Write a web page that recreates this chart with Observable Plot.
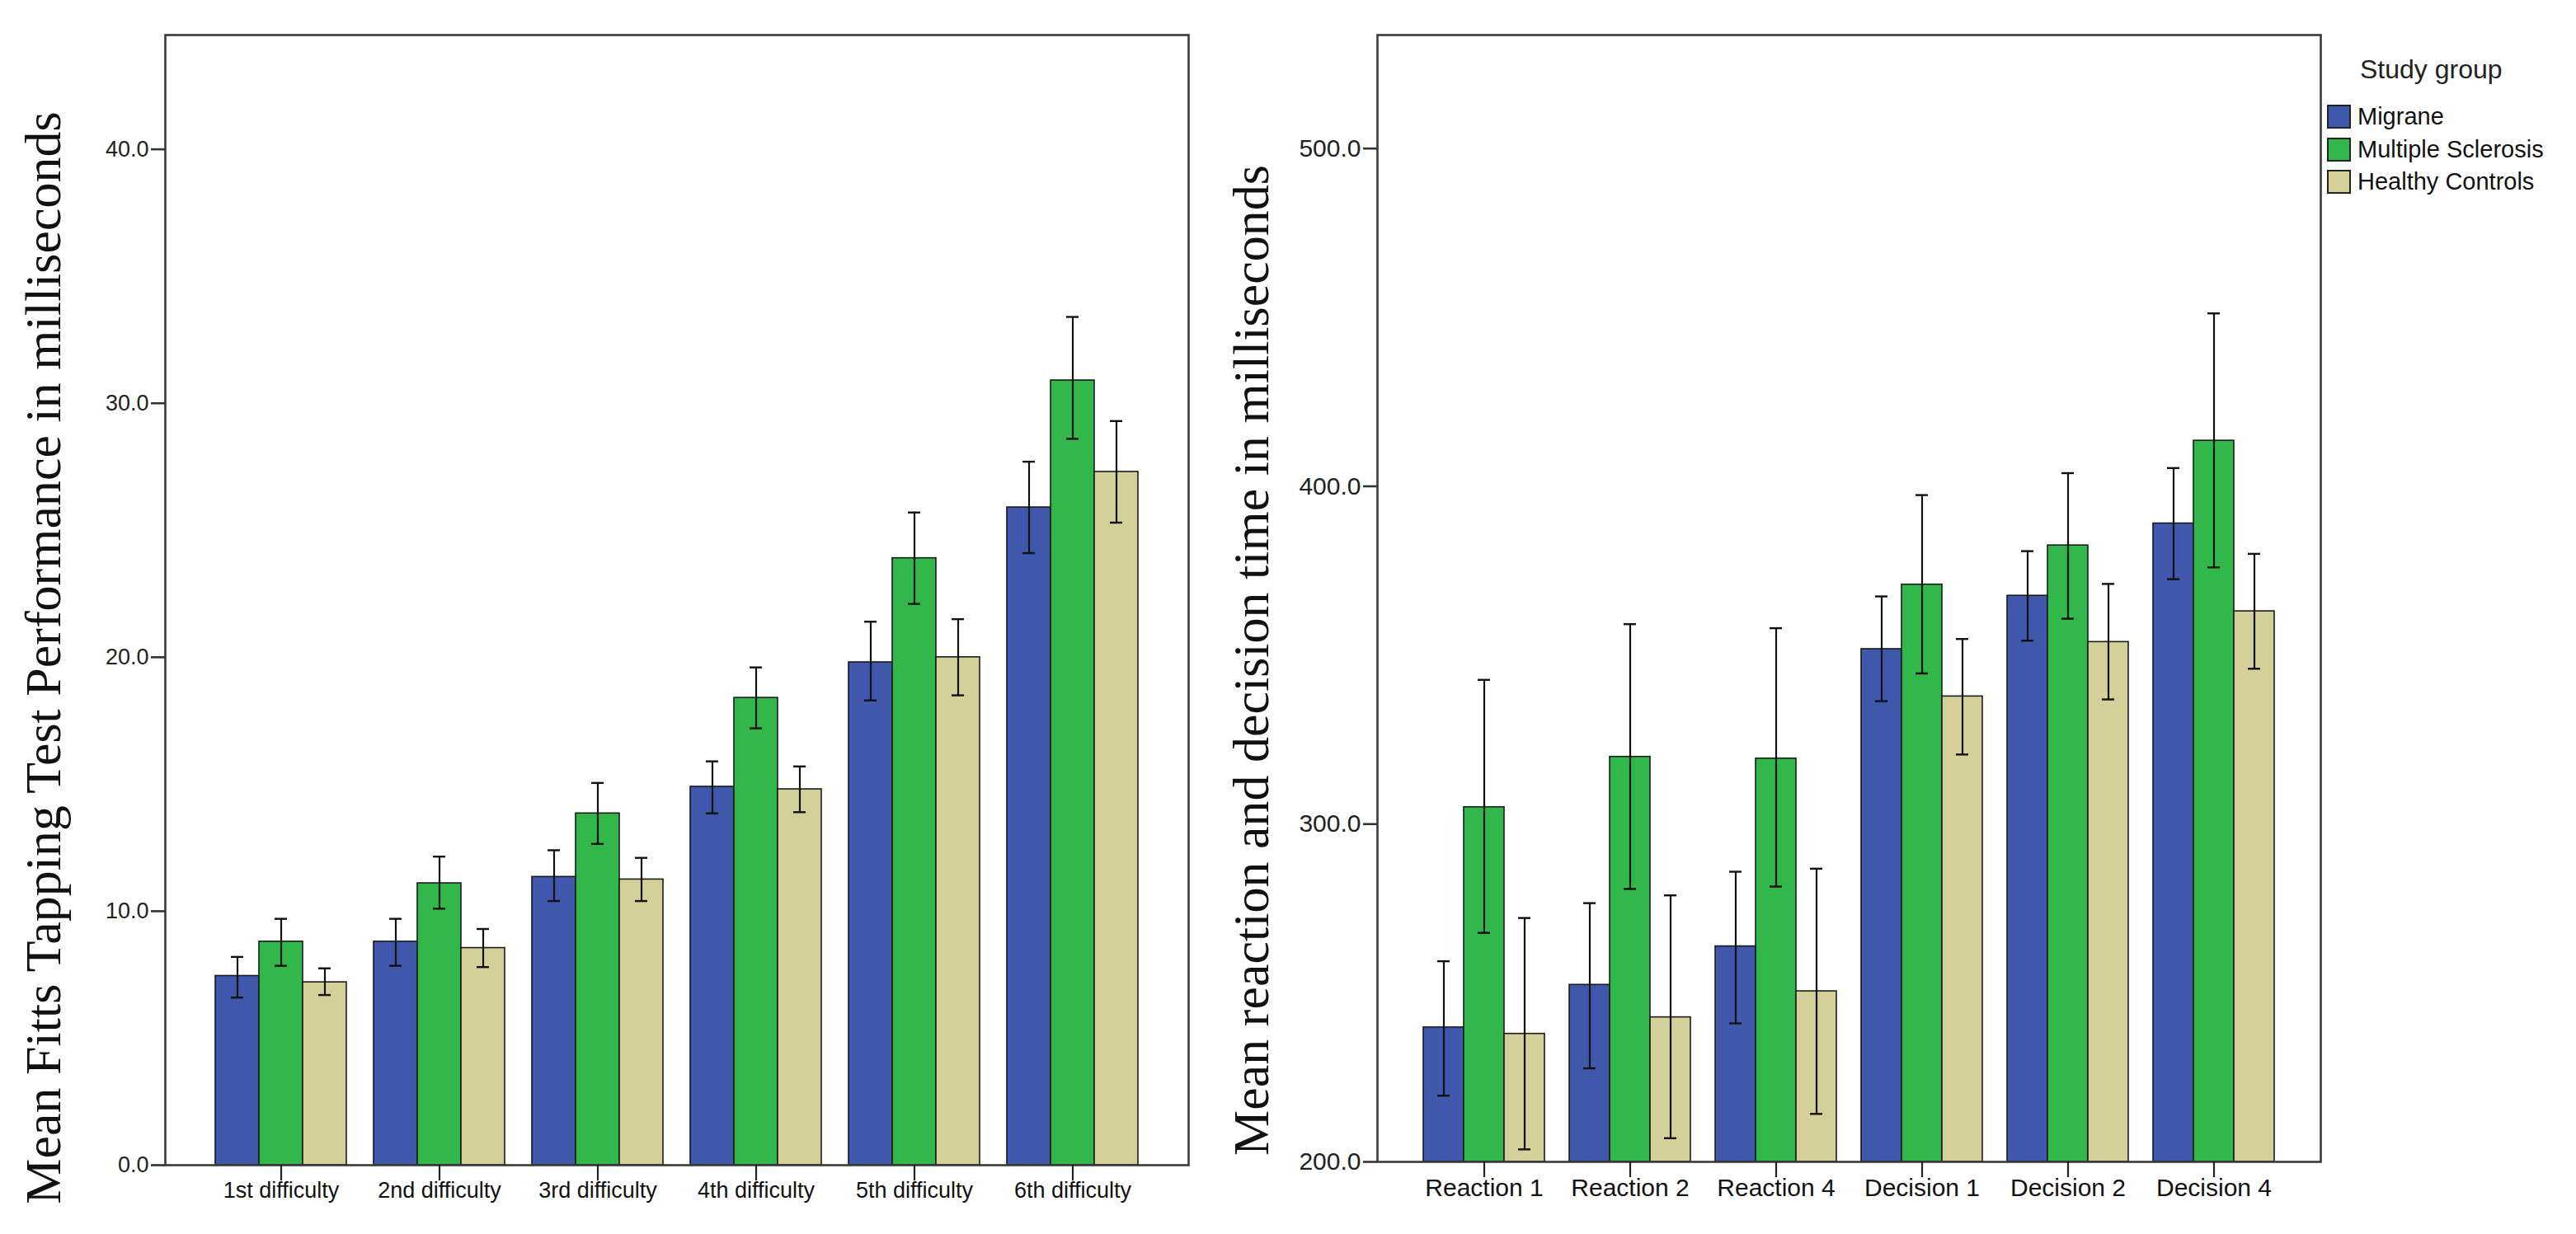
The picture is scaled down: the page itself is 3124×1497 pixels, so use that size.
<!DOCTYPE html>
<html>
<head>
<meta charset="utf-8">
<script src="https://cdn.jsdelivr.net/npm/d3@7"></script>
<script src="https://cdn.jsdelivr.net/npm/@observablehq/plot@0.6"></script>
<style>
  body { margin: 0; background: #fff; }
  #wrap { position: relative; width: 3124px; height: 1497px; overflow: hidden; background: #fff; }
  #left { position: absolute; left: 0; top: 0; }
  #right { position: absolute; left: 1460px; top: 0; }
  .legend-title { position: absolute; left: 2862px; top: 62px; font: 32px "Liberation Sans", Arial, sans-serif; color: #222; white-space: nowrap; line-height: 44px; }
  .legend-item { position: absolute; left: 2822px; height: 30px; display: flex; align-items: center; font: 29px "Liberation Sans", Arial, sans-serif; color: #111; white-space: nowrap; }
  .legend-item .sw { width: 25px; height: 25px; border: 2px solid #222; margin-right: 8px; box-sizing: content-box; }
</style>
</head>
<body>
<div id="wrap">
  <div id="left"></div>
  <div id="right"></div>
  <div id="legend"></div>
</div>
<script>
// ---------- data ----------
const groups = ["Migrane", "Multiple Sclerosis", "Healthy Controls"];
const groupColors = ["#3F58AB", "#31B74A", "#D5D09A"];

// Left chart: Fitts tapping test
const fittsCategories = ["1st difficulty", "2nd difficulty", "3rd difficulty", "4th difficulty", "5th difficulty", "6th difficulty"];
const fittsTicks = [0, 10, 20, 30, 40];
const fittsMigrane   = [7.45, 8.8, 11.35, 14.9, 19.8, 25.9];
const fittsMigraneLo = [6.6, 7.85, 10.4, 13.85, 18.3, 24.1];
const fittsMigraneHi = [8.2, 9.7, 12.4, 15.9, 21.4, 27.7];
const fittsMS        = [8.8, 11.1, 13.85, 18.4, 23.9, 30.9];
const fittsMSLo      = [7.85, 10.1, 12.65, 17.2, 22.1, 28.6];
const fittsMSHi      = [9.7, 12.15, 15.05, 19.6, 25.7, 33.4];
const fittsHC        = [7.2, 8.55, 11.25, 14.8, 20.0, 27.3];
const fittsHCLo      = [6.7, 7.8, 10.4, 13.9, 18.5, 25.3];
const fittsHCHi      = [7.75, 9.3, 12.1, 15.7, 21.5, 29.3];
const fittsLabel = "Mean Fitts Tapping Test Performance in milliseconds";

// Right chart: reaction and decision time
const rtCategories = ["Reaction 1", "Reaction 2", "Reaction 4", "Decision 1", "Decision 2", "Decision 4"];
const rtTicks = [200, 300, 400, 500];
const rtMigrane   = [239.8, 252.4, 263.8, 351.8, 367.6, 389.0];
const rtMigraneLo = [219.6, 227.7, 241.0, 336.4, 354.3, 372.5];
const rtMigraneHi = [259.4, 276.6, 285.9, 367.4, 380.8, 405.4];
const rtMS        = [305.0, 319.9, 319.4, 370.9, 382.5, 413.5];
const rtMSLo      = [267.8, 280.8, 281.5, 344.6, 360.8, 376.0];
const rtMSHi      = [342.7, 359.2, 358.0, 397.4, 403.9, 451.2];
const rtHC        = [237.9, 242.8, 250.5, 337.8, 353.9, 363.0];
const rtHCLo      = [203.7, 207.0, 214.2, 320.6, 336.9, 346.0];
const rtHCHi      = [272.2, 278.9, 286.8, 354.8, 371.1, 380.0];
const rtLabel = "Mean reaction and decision time in milliseconds";

// ---------- build tables ----------
function buildTable(categories, means, los, his) {
  const out = [];
  categories.forEach((c, i) => {
    groups.forEach((g, j) => {
      out.push({category: c, group: g, mean: means[j][i], lo: los[j][i], hi: his[j][i]});
    });
  });
  return out;
}
const fittsTable = buildTable(fittsCategories,
  [fittsMigrane, fittsMS, fittsHC], [fittsMigraneLo, fittsMSLo, fittsHCLo], [fittsMigraneHi, fittsMSHi, fittsHCHi]);
const rtTable = buildTable(rtCategories,
  [rtMigrane, rtMS, rtHC], [rtMigraneLo, rtMSLo, rtHCLo], [rtMigraneHi, rtMSHi, rtHCHi]);

const sans = "'Liberation Sans', Arial, sans-serif";
const serif = "'Liberation Serif', 'Times New Roman', serif";

// o.pad = empty space between the frame and the outermost bar group (facet area is inset by it)
function chart(o) {
  return Plot.plot({
    width: o.width,
    height: 1497,
    marginTop: 42,
    marginLeft: o.marginLeft + o.pad,
    marginRight: o.marginRight + o.pad,
    marginBottom: o.marginBottom,
    style: {background: "transparent", fontFamily: sans, overflow: "visible", color: "#111"},
    fx: {domain: o.categories, paddingInner: 0.17, paddingOuter: 0, label: null},
    x: {domain: groups, padding: 0, axis: null},
    y: {domain: o.domain, label: null},
    color: {domain: groups, range: groupColors},
    marks: [
      Plot.barY(o.table, {fx: "category", x: "group", y1: o.ticks[0], y2: "mean", fill: "group", stroke: "#1b1b1b", strokeWidth: 1.6}),
      Plot.ruleX(o.table, {fx: "category", x: "group", y1: "lo", y2: "hi", stroke: "#111", strokeWidth: 2.2}),
      Plot.tickY(o.table, {fx: "category", x: "group", y: "lo", stroke: "#111", strokeWidth: 2.4, insetLeft: o.capInset, insetRight: o.capInset}),
      Plot.tickY(o.table, {fx: "category", x: "group", y: "hi", stroke: "#111", strokeWidth: 2.4, insetLeft: o.capInset, insetRight: o.capInset}),
      Plot.frame({facet: "super", stroke: "#3a3a3a", strokeWidth: 2.6, insetLeft: -o.pad, insetRight: -o.pad}),
      Plot.axisY({ticks: o.ticks, tickFormat: d3.format(".1f"), tickSize: 17, tickPadding: 3, dx: -o.pad, fontSize: o.tickFont, label: null, strokeWidth: 2.6, stroke: "#333", fill: "#222"}),
      Plot.axisFx({anchor: "bottom", tickSize: 19, tickPadding: 1, fontSize: o.catFont, label: null, strokeWidth: 2.2, stroke: "#222", fill: "#111"}),
      Plot.text([o.label], {facet: "super", frameAnchor: "left", text: d => d, rotate: -90, dx: o.labelDx - o.pad, dy: o.labelDy, fontSize: 62, fontFamily: serif, fill: "#111", textAnchor: "middle", lineAnchor: "middle"})
    ]
  });
}

document.getElementById("left").appendChild(chart({
  width: 1460, marginLeft: 199, marginRight: 17, marginBottom: 84, pad: 61,
  categories: fittsCategories, table: fittsTable, ticks: fittsTicks, domain: [0, 44.5],
  tickFont: 27, catFont: 27, capInset: 19, label: fittsLabel, labelDx: -147, labelDy: 70
}));
document.getElementById("right").appendChild(chart({
  width: 1664, marginLeft: 208, marginRight: 309, marginBottom: 88, pad: 56,
  categories: rtCategories, table: rtTable, ticks: rtTicks, domain: [200, 533.6],
  tickFont: 30, catFont: 30, capInset: 17, label: rtLabel, labelDx: -152, labelDy: 75
}));

// ---------- legend ----------
const legend = document.getElementById("legend");
const title = document.createElement("div");
title.className = "legend-title";
title.textContent = "Study group";
legend.appendChild(title);
const rowTops = [126, 166, 205];
groups.forEach((g, i) => {
  const item = document.createElement("div");
  item.className = "legend-item";
  item.style.top = rowTops[i] + "px";
  const sw = document.createElement("span");
  sw.className = "sw";
  sw.style.background = groupColors[i];
  const t = document.createElement("span");
  t.textContent = g;
  item.appendChild(sw);
  item.appendChild(t);
  legend.appendChild(item);
});
</script>
</body>
</html>
